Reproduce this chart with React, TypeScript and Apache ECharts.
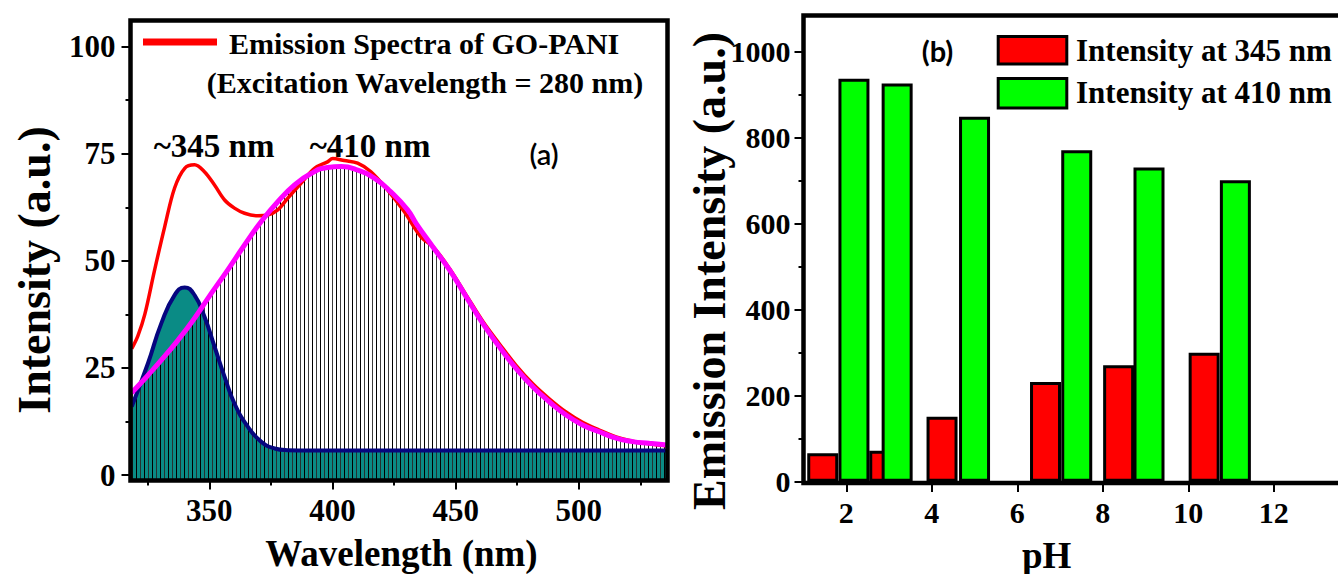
import React, { useEffect, useRef } from "react";
import * as echarts from "echarts";

// ---------- Panel (a): emission spectra ----------
const redWavelength = [318.5, 321.0, 323.8, 327.8, 331.9, 335.9, 340.0, 344.0, 348.0, 352.1, 356.2, 360.2, 364.3, 369.7, 373.7, 377.8, 381.8, 387.2, 392.7, 398.0, 400.1, 404.8, 410.2, 415.6, 422.4, 429.1, 435.9, 441.0, 447.5, 454.3, 461.0, 467.8, 474.5, 481.3, 488.0, 494.8, 501.5, 508.3, 515.1, 521.8, 528.6, 535.5];
const redIntensity = [29.5, 32.5, 37.5, 47.9, 58.0, 67.0, 71.6, 72.4, 70.8, 67.7, 64.2, 62.3, 61.1, 60.5, 60.7, 61.9, 64.6, 68.1, 71.6, 73.1, 73.9, 73.4, 72.8, 70.8, 66.5, 61.5, 55.6, 53.2, 48.2, 42.0, 35.9, 30.6, 25.6, 21.3, 17.8, 14.7, 12.3, 10.5, 8.9, 7.9, 7.3, 6.8];

const fit410Wavelength = [318.5, 325.1, 330.5, 337.3, 344.0, 350.8, 357.5, 364.3, 371.0, 377.8, 384.6, 391.3, 398.0, 403.5, 410.2, 417.0, 423.7, 430.5, 434.0, 440.7, 447.5, 454.3, 461.0, 467.8, 474.5, 481.3, 488.0, 494.8, 501.5, 508.3, 515.1, 521.8, 528.6, 535.8];
const fit410Intensity = [19.2, 23.3, 26.8, 31.5, 36.6, 42.4, 47.9, 53.7, 59.1, 63.8, 67.7, 70.4, 71.8, 72.0, 71.2, 69.3, 66.1, 61.9, 58.7, 53.3, 47.9, 41.6, 35.4, 29.9, 24.9, 20.6, 17.1, 14.0, 11.7, 10.1, 8.6, 7.8, 7.4, 7.0];

const fit345Wavelength = [318.5, 325.1, 330.5, 335.9, 340.0, 344.0, 348.0, 352.1, 356.2, 360.2, 365.6, 371.0, 376.5, 381.8, 390.0, 420.0, 460.0, 500.0, 535.8];
const fit345Intensity = [16.0, 26.1, 35.4, 42.0, 43.8, 42.0, 37.0, 30.0, 22.9, 16.7, 11.3, 7.8, 6.2, 5.8, 5.7, 5.7, 5.7, 5.7, 5.7];

const wavelengthTicks = [350, 400, 450, 500];
const wavelengthMinorTicks = [325, 375, 425, 475, 525];
const intensityTicks = [0, 25, 50, 75, 100];
const intensityMinorTicks = [12.5, 37.5, 62.5, 87.5];

// ---------- Panel (b): intensity vs pH ----------
const pH345 = [1.45, 2.9, 4.24, 6.66, 8.37, 10.37];
const intensity345 = [66, 72, 151, 232, 271, 300];
const pH410 = [2.18, 3.19, 5.0, 7.39, 9.08, 11.1];
const intensity410 = [937, 926, 849, 771, 731, 701];

const pHTicks = [2, 4, 6, 8, 10, 12];
const emissionTicks = [0, 200, 400, 600, 800, 1000];
const emissionMinorTicks = [100, 300, 500, 700, 900];

const SERIF = "'Liberation Serif', 'Times New Roman', serif";

function pairs(xs: number[], ys: number[]) {
  return xs.map((x, i) => [x, ys[i]]);
}

export default function App() {
  const ref = useRef<HTMLDivElement>(null);

  useEffect(() => {
    document.body.style.margin = "0";
    if (!ref.current) return;
    const chart = echarts.init(ref.current, null, { renderer: "svg" });

    const c = document.createElement("canvas");
    c.width = 8;
    c.height = 8;
    const ctx = c.getContext("2d")!;
    ctx.fillStyle = "rgba(0,0,0,1)";
    ctx.fillRect(0, 0, 1, 8);
    ctx.fillStyle = "rgba(40,40,40,0.9)";
    ctx.fillRect(4, 0, 1, 8);
    const hatch: any = { image: c.toDataURL(), repeat: "repeat", imageWidth: 8, imageHeight: 8 };

    const tickLabel = (size: number) => ({
      color: "#000",
      fontFamily: SERIF,
      fontWeight: "bold" as const,
      fontSize: size,
      formatter: (v: number) => String(v),
    });

    const majorAxis = (o: any) => ({
      type: "value",
      axisLine: { show: false, onZero: false },
      splitLine: { show: false },
      ...o,
    });

    const smoothLine = 0.5;

    const option: any = {
      animation: false,
      backgroundColor: "#fff",
      grid: [
        { left: 130.5, top: 20.5, width: 537, height: 460, containLabel: false },
        { left: 803.5, top: 15.5, width: 568.4, height: 467.5, containLabel: false },
      ],
      xAxis: [
        majorAxis({
          gridIndex: 0, min: 318, max: 536, position: "bottom",
          axisTick: { customValues: wavelengthTicks, length: 9, lineStyle: { color: "#000", width: 2 } },
          axisLabel: { customValues: wavelengthTicks, margin: 14, ...tickLabel(31) },
        }),
        majorAxis({
          gridIndex: 0, min: 318, max: 536, position: "bottom",
          axisTick: { customValues: wavelengthMinorTicks, length: 5, lineStyle: { color: "#000", width: 2 } },
          axisLabel: { show: false },
        }),
        majorAxis({
          gridIndex: 1, min: 1, max: 13.5, position: "bottom",
          axisTick: { customValues: pHTicks, length: 9, lineStyle: { color: "#000", width: 2 } },
          axisLabel: { customValues: pHTicks, margin: 14, ...tickLabel(30) },
        }),
      ],
      yAxis: [
        majorAxis({
          gridIndex: 0, min: -1.28, max: 106.1, position: "left",
          axisTick: { customValues: intensityTicks, length: 9, lineStyle: { color: "#000", width: 2 } },
          axisLabel: { customValues: intensityTicks, margin: 15, ...tickLabel(31) },
        }),
        majorAxis({
          gridIndex: 0, min: -1.28, max: 106.1, position: "left",
          axisTick: { customValues: intensityMinorTicks, length: 5, lineStyle: { color: "#000", width: 2 } },
          axisLabel: { show: false },
        }),
        majorAxis({
          gridIndex: 1, min: -3, max: 1084.2, position: "left",
          axisTick: { customValues: emissionTicks, length: 9, lineStyle: { color: "#000", width: 2 } },
          axisLabel: { customValues: emissionTicks, margin: 13, ...tickLabel(30) },
        }),
        majorAxis({
          gridIndex: 1, min: -3, max: 1084.2, position: "left",
          axisTick: { customValues: emissionMinorTicks, length: 5, lineStyle: { color: "#000", width: 2 } },
          axisLabel: { show: false },
        }),
      ],
      series: [
        {
          name: "345 fit area", type: "line", xAxisIndex: 0, yAxisIndex: 0,
          data: pairs(fit345Wavelength, fit345Intensity), smooth: smoothLine,
          symbol: "none", lineStyle: { width: 0 },
          areaStyle: { color: "#0a8b85", opacity: 1, origin: "start" },
        },
        {
          name: "410 fit area", type: "line", xAxisIndex: 0, yAxisIndex: 0,
          data: pairs(fit410Wavelength, fit410Intensity), smooth: smoothLine,
          symbol: "none", lineStyle: { width: 0 },
          areaStyle: { color: hatch, opacity: 1, origin: "start" },
        },
        {
          name: "345 fit", type: "line", xAxisIndex: 0, yAxisIndex: 0,
          data: pairs(fit345Wavelength, fit345Intensity), smooth: smoothLine,
          symbol: "none", lineStyle: { width: 4, color: "#06067f" },
        },
        {
          name: "Emission Spectra of GO-PANI", type: "line", xAxisIndex: 0, yAxisIndex: 0,
          data: pairs(redWavelength, redIntensity), smooth: 0.35,
          symbol: "none", lineStyle: { width: 3.5, color: "#ff0000" },
        },
        {
          name: "410 fit", type: "line", xAxisIndex: 0, yAxisIndex: 0,
          data: pairs(fit410Wavelength, fit410Intensity), smooth: smoothLine,
          symbol: "none", lineStyle: { width: 5, color: "#ff00ff" },
        },
        {
          name: "Intensity at 345 nm", type: "bar", xAxisIndex: 2, yAxisIndex: 2,
          data: pairs(pH345, intensity345), barWidth: 31, barGap: "-100%",
          itemStyle: { color: "#ff0000", borderColor: "#000", borderWidth: 3 },
        },
        {
          name: "Intensity at 410 nm", type: "bar", xAxisIndex: 2, yAxisIndex: 2,
          data: pairs(pH410, intensity410), barWidth: 31, barGap: "-100%",
          itemStyle: { color: "#00ff00", borderColor: "#000", borderWidth: 3 },
        },
      ],
      graphic: [
        // frames
        { type: "rect", z: 100, shape: { x: 130.5, y: 20.5, width: 537, height: 460 }, style: { fill: "none", stroke: "#000", lineWidth: 4.5 } },
        { type: "rect", z: 100, shape: { x: 803.5, y: 15.5, width: 568.4, height: 467.5 }, style: { fill: "none", stroke: "#000", lineWidth: 4.5 } },
        // axis titles
        { type: "text", z: 100, x: 34, y: 270, rotation: Math.PI / 2, style: { text: "Intensity (a.u.)", font: `bold 46px ${SERIF}`, fill: "#000", align: "center", verticalAlign: "middle" } },
        { type: "text", z: 100, x: 401.5, y: 553, style: { text: "Wavelength (nm)", font: `bold 37px ${SERIF}`, fill: "#000", align: "center", verticalAlign: "middle" } },
        { type: "text", z: 100, x: 709, y: 271, rotation: Math.PI / 2, style: { text: "Emission Intensity (a.u.)", font: `bold 46px ${SERIF}`, fill: "#000", align: "center", verticalAlign: "middle" } },
        { type: "text", z: 100, x: 1046.7, y: 555, style: { text: "pH", font: `bold 37px ${SERIF}`, fill: "#000", align: "center", verticalAlign: "middle" } },
        // panel (a) legend & annotations
        { type: "line", z: 100, shape: { x1: 143, y1: 42, x2: 217, y2: 42 }, style: { stroke: "#ff0000", lineWidth: 7 } },
        { type: "text", z: 100, x: 229, y: 43, style: { text: "Emission Spectra of GO-PANI", font: `bold 30px ${SERIF}`, fill: "#000", align: "left", verticalAlign: "middle" } },
        { type: "text", z: 100, x: 425, y: 82, style: { text: "(Excitation Wavelength = 280 nm)", font: `bold 30px ${SERIF}`, fill: "#000", align: "center", verticalAlign: "middle" } },
        { type: "text", z: 100, x: 214, y: 146, style: { text: "~345 nm", font: `bold 33px ${SERIF}`, fill: "#000", align: "center", verticalAlign: "middle" } },
        { type: "text", z: 100, x: 370, y: 146, style: { text: "~410 nm", font: `bold 33px ${SERIF}`, fill: "#000", align: "center", verticalAlign: "middle" } },
        { type: "text", z: 100, x: 544, y: 153, style: { text: "(a)", font: `600 29px Lato, 'Open Sans', sans-serif`, fill: "#000", align: "center", verticalAlign: "middle" } },
        // panel (b) legend & annotation
        { type: "text", z: 100, x: 937.5, y: 50, style: { text: "(b)", font: `bold 29px Lato, 'Open Sans', sans-serif`, fill: "#000", align: "center", verticalAlign: "middle" } },
        { type: "rect", z: 100, shape: { x: 998.2, y: 36.5, width: 68.6, height: 27.5 }, style: { fill: "#ff0000", stroke: "#000", lineWidth: 3 } },
        { type: "rect", z: 100, shape: { x: 998.2, y: 78.5, width: 68.6, height: 29.5 }, style: { fill: "#00ff00", stroke: "#000", lineWidth: 3 } },
        { type: "text", z: 100, x: 1076, y: 50, style: { text: "Intensity at 345 nm", font: `bold 31px ${SERIF}`, fill: "#000", align: "left", verticalAlign: "middle" } },
        { type: "text", z: 100, x: 1076, y: 92, style: { text: "Intensity at 410 nm", font: `bold 31px ${SERIF}`, fill: "#000", align: "left", verticalAlign: "middle" } },
      ],
    };

    chart.setOption(option);
    return () => chart.dispose();
  }, []);

  return (
    <div
      ref={ref}
      style={{ position: "absolute", left: 0, top: 0, width: 1338, height: 574 }}
    />
  );
}
